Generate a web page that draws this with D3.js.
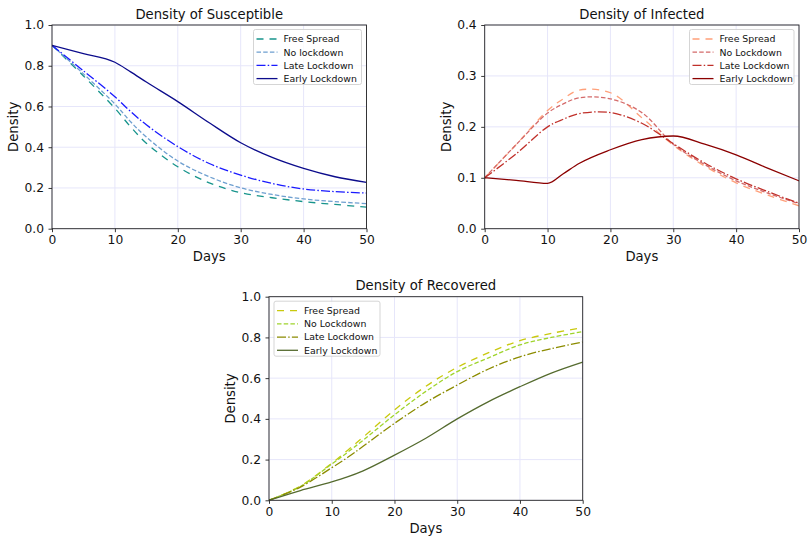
<!DOCTYPE html>
<html>
<head>
<meta charset="utf-8">
<script src="https://cdn.jsdelivr.net/npm/d3@7"></script>
<style>
  body { margin: 0; background: #fff; }
  svg { font-family: "DejaVu Sans", sans-serif; }
</style>
</head>
<body>
<script>
// days sampled for every series
const days = [0, 5, 10, 12.5, 15, 20, 25, 30, 35, 40, 45, 50];

// susceptible
const susFree  = [0.9, 0.75, 0.591, 0.50, 0.42, 0.304, 0.225, 0.177, 0.152, 0.133, 0.119, 0.106];
const susNo    = [0.9, 0.76, 0.612, 0.525, 0.45, 0.332, 0.255, 0.201, 0.168, 0.146, 0.133, 0.123];
const susLate  = [0.9, 0.775, 0.648, 0.575, 0.51, 0.403, 0.32, 0.263, 0.222, 0.195, 0.182, 0.175];
const susEarly = [0.9, 0.86, 0.817, 0.77, 0.72, 0.624, 0.52, 0.422, 0.35, 0.296, 0.255, 0.227];

// infected
const infFree  = [0.1, 0.165, 0.232, 0.255, 0.272, 0.267, 0.218, 0.164, 0.123, 0.09, 0.066, 0.045];
const infNo    = [0.1, 0.165, 0.227, 0.245, 0.257, 0.255, 0.228, 0.166, 0.126, 0.094, 0.07, 0.049];
const infLate  = [0.1, 0.147, 0.2, 0.215, 0.226, 0.228, 0.207, 0.167, 0.129, 0.098, 0.073, 0.05];
const infEarly = [0.1, 0.095, 0.089, 0.108, 0.128, 0.155, 0.175, 0.182, 0.166, 0.145, 0.119, 0.094];

// recovered
const recFree  = [0, 0.07, 0.182, 0.245, 0.31, 0.444, 0.56, 0.653, 0.725, 0.784, 0.82, 0.848];
const recNo    = [0, 0.068, 0.178, 0.235, 0.295, 0.42, 0.535, 0.632, 0.70, 0.763, 0.80, 0.828];
const recLate  = [0, 0.065, 0.16, 0.21, 0.265, 0.378, 0.48, 0.566, 0.645, 0.705, 0.745, 0.777];
const recEarly = [0, 0.048, 0.09, 0.115, 0.145, 0.222, 0.305, 0.4, 0.485, 0.558, 0.625, 0.679];

const xTicks = [0, 10, 20, 30, 40, 50];
const yTicksFull = [0, 0.2, 0.4, 0.6, 0.8, 1.0];
const yTicksInf = [0, 0.1, 0.2, 0.3, 0.4];

const dashes = ["7,6", "4.5,2.2", "9,2.2,1.5,2.2", null];

const svg = d3.select("body").append("svg")
    .attr("width", 809)
    .attr("height", 536);

const drawPanel = (p) => {
    const x = d3.scaleLinear().domain([0, 50]).range([p.left, p.right]);
    const y = d3.scaleLinear().domain([0, p.ymax]).range([p.bottom, p.top]);
    const g = svg.append("g");

    // grid
    g.append("g").selectAll("line").data(xTicks).join("line")
        .attr("x1", d => x(d)).attr("x2", d => x(d))
        .attr("y1", p.top).attr("y2", p.bottom)
        .attr("stroke", "#e6e6fa").attr("stroke-width", 1);
    g.append("g").selectAll("line").data(p.yTicks).join("line")
        .attr("x1", p.left).attr("x2", p.right)
        .attr("y1", d => y(d)).attr("y2", d => y(d))
        .attr("stroke", "#e6e6fa").attr("stroke-width", 1);

    // lines (early lockdown has a kink at day 10, so keep it monotone)
    const smooth = d3.line()
        .x((d, i) => x(days[i]))
        .y(d => y(d))
        .curve(d3.curveCatmullRom.alpha(0.5));
    const kinked = d3.line()
        .x((d, i) => x(days[i]))
        .y(d => y(d))
        .curve(d3.curveMonotoneX);
    const clipId = "clip" + p.id;
    g.append("clipPath").attr("id", clipId).append("rect")
        .attr("x", p.left).attr("y", p.top)
        .attr("width", p.right - p.left).attr("height", p.bottom - p.top);
    p.series.forEach((s, i) => {
        g.append("path")
            .attr("clip-path", "url(#" + clipId + ")")
            .attr("d", i === 3 ? kinked(s) : smooth(s))
            .attr("fill", "none")
            .attr("stroke", p.colors[i])
            .attr("stroke-width", 1.3)
            .attr("stroke-dasharray", dashes[i]);
    });

    // axes
    const xAxis = g.append("g")
        .attr("transform", "translate(0," + p.bottom + ")")
        .call(d3.axisBottom(x).tickValues(xTicks).tickSize(3.5).tickPadding(3.5).tickSizeOuter(0));
    const yAxis = g.append("g")
        .attr("transform", "translate(" + p.left + ",0)")
        .call(d3.axisLeft(y).tickValues(p.yTicks).tickFormat(d3.format(".1f")).tickSize(3.5).tickPadding(4.5).tickSizeOuter(0));
    [xAxis, yAxis].forEach(a => {
        a.select(".domain").remove();
        a.selectAll("line").attr("stroke", "#222").attr("stroke-width", 0.9);
        a.selectAll("text").attr("font-size", 12.3).attr("fill", "#111")
            .attr("font-family", "DejaVu Sans, sans-serif");
    });

    // frame
    g.append("rect")
        .attr("x", p.left).attr("y", p.top)
        .attr("width", p.right - p.left).attr("height", p.bottom - p.top)
        .attr("fill", "none").attr("stroke", "#222").attr("stroke-width", 0.9);

    // titles
    const cx = (p.left + p.right) / 2;
    g.append("text").attr("x", cx).attr("y", p.top - 6.5)
        .attr("text-anchor", "middle").attr("font-size", 13.2).attr("fill", "#111")
        .text(p.title);
    g.append("text").attr("x", cx).attr("y", p.bottom + 32.5)
        .attr("text-anchor", "middle").attr("font-size", 13.2).attr("fill", "#111")
        .text("Days");
    g.append("text")
        .attr("transform", "translate(" + (p.left - 34) + "," + ((p.top + p.bottom) / 2) + ") rotate(-90)")
        .attr("text-anchor", "middle").attr("font-size", 13.2).attr("fill", "#111")
        .text("Density");

    // legend
    const lw = p.legendW, lh = 55;
    const lx = p.legendLeft ? p.left + 5 : p.right - 5 - lw;
    const ly = p.top + 4.5;
    const leg = g.append("g").attr("transform", "translate(" + lx + "," + ly + ")");
    leg.append("rect").attr("width", lw).attr("height", lh).attr("rx", 2)
        .attr("fill", "#fff").attr("fill-opacity", 0.8)
        .attr("stroke", "#d0d0d0").attr("stroke-width", 0.9);
    p.labels.forEach((lab, i) => {
        const yy = 9.5 + i * 13.2;
        leg.append("line").attr("x1", 3).attr("x2", 24).attr("y1", yy).attr("y2", yy)
            .attr("stroke", p.colors[i]).attr("stroke-width", 1.3)
            .attr("stroke-dasharray", dashes[i]);
        leg.append("text").attr("x", 30).attr("y", yy + 3.3)
            .attr("font-size", 9.4).attr("fill", "#111").text(lab);
    });
};

drawPanel({
    id: 1, left: 52, right: 366.5, top: 25, bottom: 228.7, ymax: 1.0, yTicks: yTicksFull,
    title: "Density of Susceptible",
    series: [susFree, susNo, susLate, susEarly],
    colors: ["#17948c", "#6e9fd0", "#1a1aff", "#0c0c8c"],
    labels: ["Free Spread", "No lockdown", "Late Lockdown", "Early Lockdown"],
    legendW: 108, legendLeft: false
});

drawPanel({
    id: 2, left: 484.7, right: 799, top: 25, bottom: 228.7, ymax: 0.4, yTicks: yTicksInf,
    title: "Density of Infected",
    series: [infFree, infNo, infLate, infEarly],
    colors: ["#ffa07a", "#d46a6a", "#c0302a", "#8b0000"],
    labels: ["Free Spread", "No Lockdown", "Late Lockdown", "Early Lockdown"],
    legendW: 104.5, legendLeft: false
});

drawPanel({
    id: 3, left: 269, right: 582.7, top: 296.7, bottom: 500.3, ymax: 1.0, yTicks: yTicksFull,
    title: "Density of Recovered",
    series: [recFree, recNo, recLate, recEarly],
    colors: ["#c9c90e", "#9fd42c", "#8c8c00", "#556b2f"],
    labels: ["Free Spread", "No Lockdown", "Late Lockdown", "Early Lockdown"],
    legendW: 106, legendLeft: true
});
</script>
</body>
</html>
